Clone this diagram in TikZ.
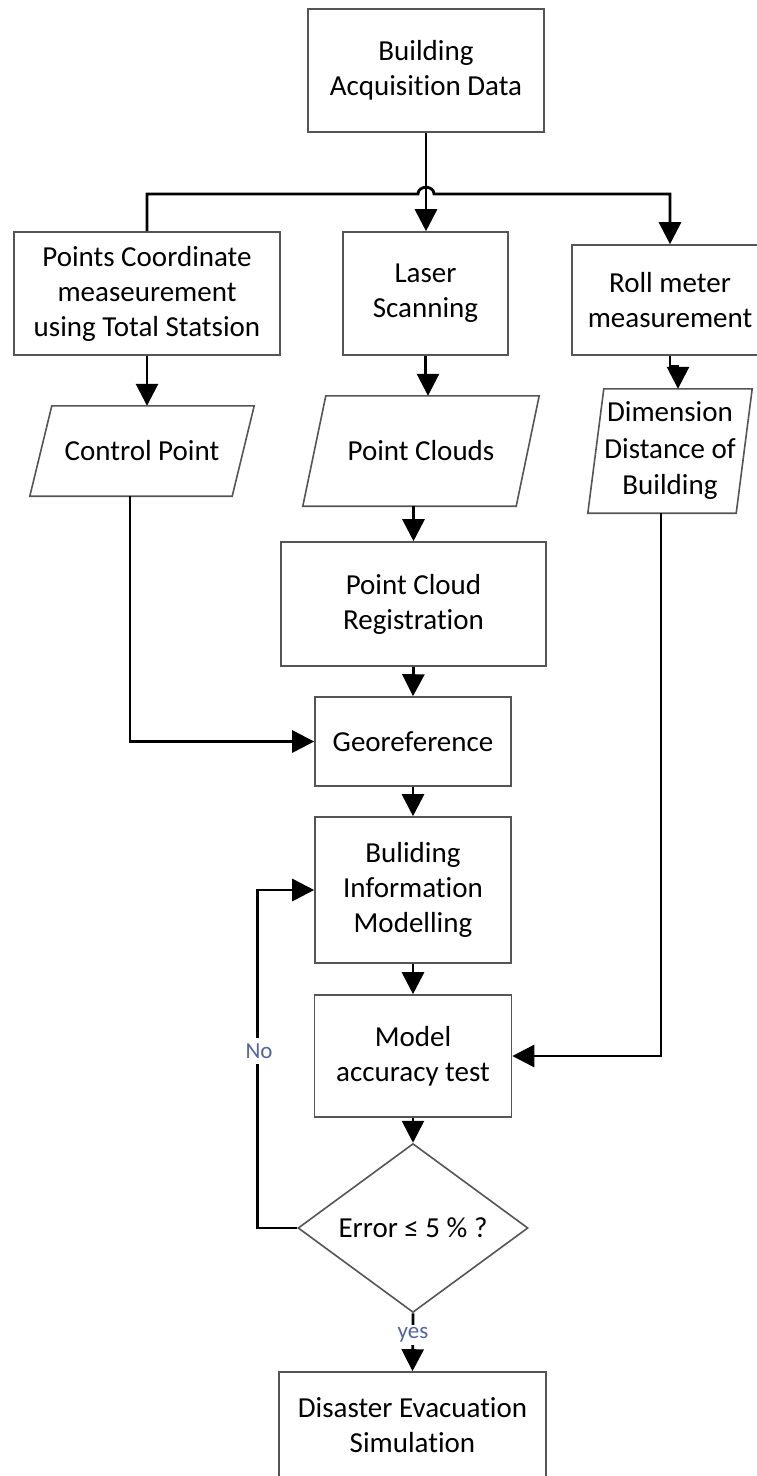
\documentclass[tikz,border=0pt]{standalone}
\usepackage{fontspec}
\setmainfont{Carlito}[Ligatures={NoCommon}]
\usetikzlibrary{arrows.meta,shapes.geometric}
\definecolor{boxgray}{RGB}{85,85,85}
\definecolor{lblblue}{RGB}{85,100,160}
\begin{document}
\begin{tikzpicture}[x=1pt,y=-1pt,
  box/.style={draw=boxgray, line width=1.6pt, align=center, inner sep=0pt, font=\fontsize{29}{35}\selectfont},
  plain/.style={align=center, inner sep=0pt, font=\fontsize{29}{35}\selectfont},
  paraline/.style={draw=boxgray, line width=1.6pt, line join=miter},
  conn/.style={line width=2.8pt, draw=black},
  arr/.style={conn, -{Triangle[width=22pt 0 1,length=22pt 0 1]}},
  lbl/.style={fill=white, text=lblblue, inner xsep=2pt, inner ysep=6pt, font=\fontsize{23}{27}\selectfont},
]
\fill[white] (0,0) rectangle (757,1476);
\useasboundingbox (0,0) rectangle (757,1476);

% boxes
\node[box, minimum width=236pt, minimum height=123pt] (top) at (426,70.5) {Building\\Acquisition Data};
\node[box, minimum width=266pt, minimum height=123pt] (pc) at (147,293.5) {Points Coordinate\\measeurement\\using Total Statsion};
\node[box, minimum width=165pt, minimum height=123pt] (laser) at (425.5,293.5) {Laser\\Scanning};
\node[box, minimum width=196pt, minimum height=110pt] (roll) at (670,300) {Roll meter\\measurement};

% parallelograms (text nodes + outlines)
\node[plain, minimum width=202pt, minimum height=90pt] (cp) at (142,451) {Control Point};
\draw[paraline] ([xshift=11pt]cp.north west) -- ([xshift=11pt]cp.north east) -- ([xshift=-11pt]cp.south east) -- ([xshift=-11pt]cp.south west) -- cycle;
\node[plain, minimum width=213pt, minimum height=110pt] (clouds) at (421,451) {Point Clouds};
\draw[paraline] ([xshift=11.5pt]clouds.north west) -- ([xshift=11.5pt]clouds.north east) -- ([xshift=-11.5pt]clouds.south east) -- ([xshift=-11.5pt]clouds.south west) -- cycle;
\node[plain, minimum width=148pt, minimum height=124pt, font=\fontsize{29}{36.5}\selectfont] (dim) at (670,451) {Dimension\\Distance of\\Building};
\draw[paraline] ([xshift=8pt]dim.north west) -- ([xshift=8pt]dim.north east) -- ([xshift=-8pt]dim.south east) -- ([xshift=-8pt]dim.south west) -- cycle;

\node[box, minimum width=265pt, minimum height=124pt] (pcr) at (413.5,604) {Point Cloud\\Registration};
\node[box, minimum width=196pt, minimum height=89pt] (geo) at (413,741.5) {Georeference};
\node[box, minimum width=196pt, minimum height=146pt] (bim) at (413,890) {Buliding\\Information\\Modelling};
\node[box, minimum width=197pt, minimum height=122pt] (model) at (413,1056) {Model\\accuracy test};
\node[box, shape=diamond, minimum width=230pt, minimum height=146pt] (dia) at (413,1228) {Error ≤ 5 \% ?};
\node[box, minimum width=267pt, minimum height=107pt] (dis) at (412.5,1425.5) {Disaster Evacuation\\Simulation};

% connectors
\coordinate (barL) at (147,194);
\coordinate (bumpA) at (418,194);
\coordinate (bumpB) at (434,194);
\coordinate (barR) at (670,194);
\draw[arr] (top.south) -- (top.south |- laser.north);
\draw[arr] (pc.north) -- (barL) -- (bumpA) .. controls (418,185) and (434,185) .. (bumpB) -- (barR) -- (roll.north);
\draw[arr] (pc.south) -- (pc.south |- cp.north);
\draw[arr] (laser.south) -- ++(0,22) -| ([xshift=7pt]clouds.north);
\draw[arr] (roll.south) -- ++(0,11) -| ([xshift=8pt]dim.north);
\draw[arr] (pcr.north |- clouds.south) -- (pcr.north);
\draw[arr] (pcr.south) -- (geo.north);
\draw[arr] ([xshift=-12pt]cp.south) |- (geo.west);
\draw[arr] (geo.south) -- (bim.north);
\draw[arr] (bim.south) -- (model.north);
\draw[arr] ([xshift=-9pt]dim.south) |- (model.east);
\draw[arr] (model.south) -- (dia.north);
\draw[arr] (dia.west) -- ++(-40,0) |- (bim.west);
\node[lbl] (no) at (259,1051) {No};
\draw[arr] (dia.south) -- (dis.north);
\node[lbl, inner ysep=3pt] (yes) at (413,1335) {yes};
\end{tikzpicture}
\end{document}
